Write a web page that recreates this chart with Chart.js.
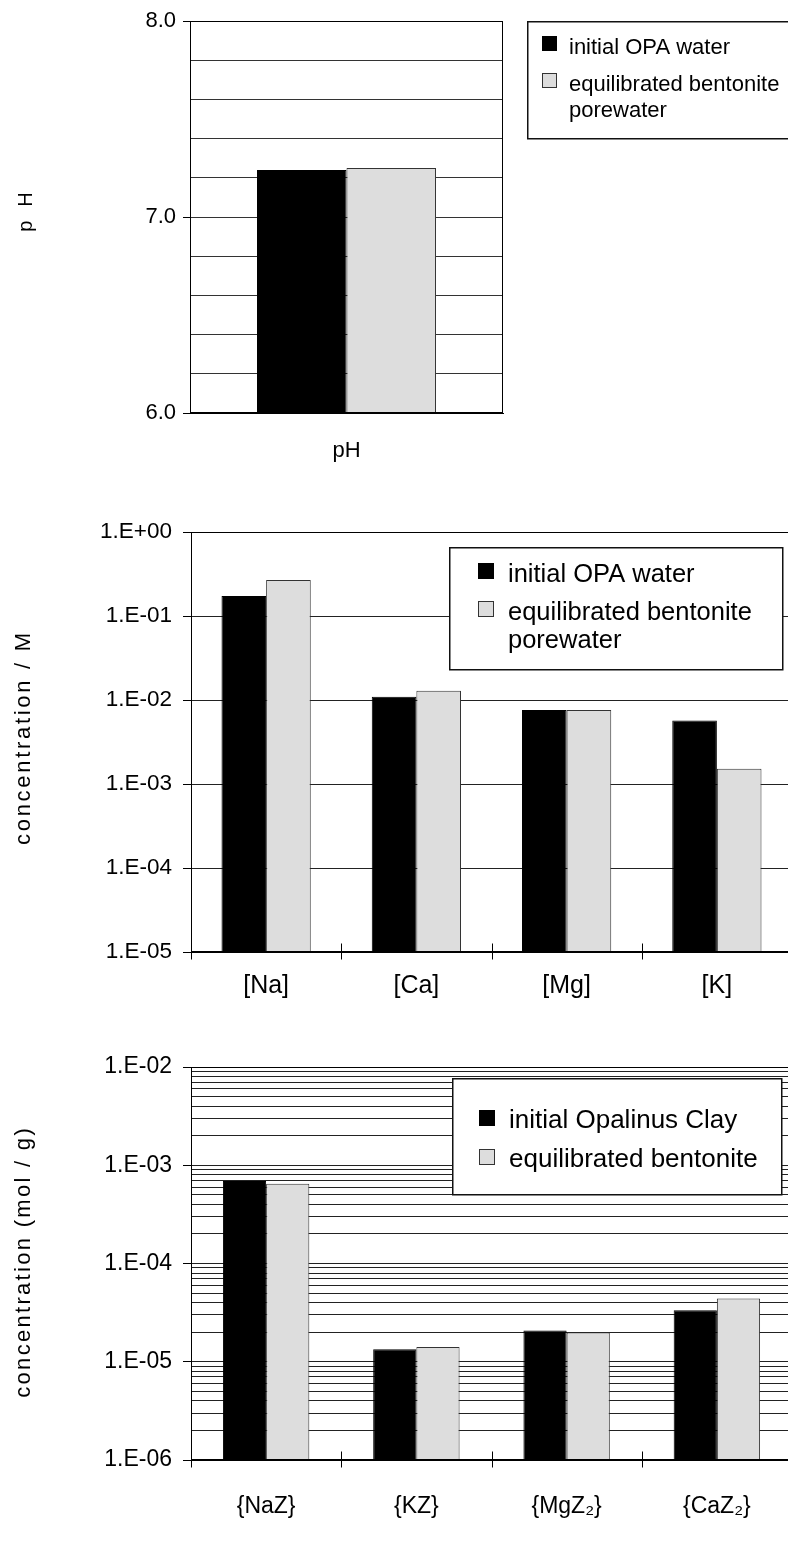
<!DOCTYPE html>
<html>
<head>
<meta charset="utf-8">
<title>pH, porewater and exchanger concentrations</title>
<script src="https://cdn.jsdelivr.net/npm/chart.js@4/dist/chart.umd.min.js"></script>
<style>
  html, body { margin: 0; padding: 0; background: #fff; width: 788px; height: 1542px; overflow: hidden; }
  .panel { position: absolute; left: 0; }
  canvas { display: block; }
</style>
</head>
<body>
<div class="panel" style="top:0px"><canvas id="phChart" width="788" height="480"></canvas></div>
<div class="panel" style="top:480px"><canvas id="waterChart" width="800" height="540"></canvas></div>
<div class="panel" style="top:1020px"><canvas id="exchChart" width="800" height="522"></canvas></div>

<script>
// ---- pH panel ----
const phCategories = ['pH'];
const phInitialOPA = [7.24];
const phBentonite = [7.25];
const phTickValues = [6, 7, 8];
const phTickLabels = ['6.0', '7.0', '8.0'];

// ---- dissolved cations (mol/L) ----
const waterCategories = ['[Na]', '[Ca]', '[Mg]', '[K]'];
const waterInitialOPA = [0.173, 0.0109, 0.0076, 0.0057];
const waterBentonite = [0.268, 0.0129, 0.0076, 0.00152];
const waterTickValues = [1e-5, 1e-4, 1e-3, 1e-2, 1e-1, 1];
const waterTickLabels = ['1.E-05', '1.E-04', '1.E-03', '1.E-02', '1.E-01', '1.E+00'];

// ---- exchanger occupancy (mol/g) ----
const exchCategories = ['{NaZ}', '{KZ}', '{MgZ\u2082}', '{CaZ\u2082}'];
const exchInitialClay = [6.9e-4, 1.34e-5, 2.08e-5, 3.35e-5];
const exchBentonite = [6.5e-4, 1.41e-5, 1.99e-5, 4.41e-5];
const exchTickValues = [1e-6, 1e-5, 1e-4, 1e-3, 1e-2];
const exchTickLabels = ['1.E-06', '1.E-05', '1.E-04', '1.E-03', '1.E-02'];

const waterSeriesNames = ['initial OPA water', 'equilibrated bentonite porewater'];
const exchSeriesNames = ['initial Opalinus Clay', 'equilibrated bentonite'];

const FONT = '"Liberation Sans", Arial, Helvetica, sans-serif';
Chart.defaults.font.family = FONT;
Chart.defaults.color = '#000';
Chart.defaults.animation = false;

const BLACK = '#000000';
const GREY = '#dddddd';
const GREY_EDGE = '#333333';

function labelFor(values, labels, v) {
  const i = values.findIndex(t => Math.abs(t - v) <= Math.abs(t) * 1e-6);
  return i >= 0 ? labels[i] : '';
}
function isMajor(values, v) {
  return values.some(t => Math.abs(t - v) <= Math.abs(t) * 1e-6);
}

// full set of 1..9 x 10^n grid values between two decades
function logGrid(minExp, maxExp) {
  const out = [];
  for (let e = minExp; e < maxExp; e++) {
    for (let m = 1; m <= 9; m++) out.push(m * Math.pow(10, e));
  }
  out.push(Math.pow(10, maxExp));
  return out;
}

function wrapLines(ctx, text, maxW) {
  const words = text.split(' ');
  const lines = [];
  let cur = '';
  words.forEach(w => {
    const t = cur ? cur + ' ' + w : w;
    if (cur && ctx.measureText(t).width > maxW) { lines.push(cur); cur = w; }
    else cur = t;
  });
  if (cur) lines.push(cur);
  return lines;
}

// plot frame plus category boundary ticks crossing the x axis
const framePlugin = {
  id: 'frame',
  afterDatasetsDraw(chart, args, o) {
    const a = chart.chartArea;
    const ctx = chart.ctx;
    ctx.save();
    ctx.strokeStyle = '#000';
    ctx.lineWidth = 1;
    const l = Math.round(a.left) + 0.5, r = Math.round(a.right) - 0.5;
    const t = Math.round(a.top) + 0.5, b = Math.round(a.bottom) - 0.5;
    ctx.strokeRect(l, t, r - l, b - t);
    if (o && o.crossTicks) {
      const n = chart.data.labels.length;
      const step = (a.right - a.left) / n;
      ctx.beginPath();
      for (let i = 0; i <= n; i++) {
        const x = Math.round(a.left + i * step) + 0.5;
        ctx.moveTo(x, b - o.crossTicks);
        ctx.lineTo(x, b + o.crossTicks);
      }
      ctx.stroke();
    }
    ctx.restore();
  }
};

// boxed legend with wrapped entries
const boxLegendPlugin = {
  id: 'boxLegend',
  afterDatasetsDraw(chart, args, o) {
    if (!o || !o.w) return;
    const ctx = chart.ctx;
    ctx.save();
    ctx.fillStyle = '#fff';
    ctx.fillRect(o.x, o.y, o.w, o.h);
    ctx.strokeStyle = '#111';
    ctx.lineWidth = 1.5;
    ctx.strokeRect(o.x + 0.75, o.y + 0.75, o.w, o.h);
    ctx.font = o.size + 'px ' + FONT;
    ctx.textBaseline = 'alphabetic';
    ctx.textAlign = 'left';
    let base = o.y + o.first;
    chart.data.datasets.forEach(ds => {
      const lines = wrapLines(ctx, ds.label, o.maxText);
      const sy = Math.round(base - o.swatchGap - o.swatch);
      ctx.fillStyle = ds.backgroundColor;
      ctx.fillRect(o.swatchX, sy, o.swatch, o.swatch);
      ctx.strokeStyle = ds.borderColor;
      ctx.lineWidth = 1;
      ctx.strokeRect(o.swatchX + 0.5, sy + 0.5, o.swatch - 1, o.swatch - 1);
      ctx.fillStyle = '#000';
      lines.forEach((ln, i) => ctx.fillText(ln, o.textX, base + i * o.lineGap));
      base += (lines.length - 1) * o.lineGap + o.itemGap;
    });
    ctx.restore();
  }
};

// rotated, letter-spaced value-axis title
const yTitlePlugin = {
  id: 'yTitle',
  afterDraw(chart, args, o) {
    if (!o || !o.text) return;
    const ctx = chart.ctx;
    ctx.save();
    ctx.font = o.size + 'px ' + FONT;
    if ('letterSpacing' in ctx) ctx.letterSpacing = o.spacing + 'px';
    const w = ctx.measureText(o.text).width - o.spacing;
    ctx.translate(o.cx, o.cy);
    ctx.rotate(-Math.PI / 2);
    ctx.fillStyle = '#000';
    ctx.textAlign = 'left';
    ctx.textBaseline = 'middle';
    ctx.fillText(o.text, -w / 2, 0);
    ctx.restore();
  }
};

function barSet(label, data, fill, edge) {
  return { label, data, backgroundColor: fill, borderColor: edge, borderWidth: 1, borderSkipped: 'start' };
}

const common = {
  responsive: false,
  animation: false,
  devicePixelRatio: 1,
  events: []
};

// ---------- pH ----------
new Chart(document.getElementById('phChart'), {
  type: 'bar',
  data: {
    labels: phCategories,
    datasets: [
      barSet(waterSeriesNames[0], phInitialOPA, BLACK, BLACK),
      barSet(waterSeriesNames[1], phBentonite, GREY, GREY_EDGE)
    ]
  },
  options: Object.assign({}, common, {
    layout: { padding: { left: 0, right: 285, top: 21, bottom: 0 } },
    datasets: { bar: { categoryPercentage: 0.572, barPercentage: 1 } },
    plugins: {
      legend: { display: false },
      tooltip: { enabled: false },
      frame: {},
      boxLegend: { x: 527, y: 21, w: 300, h: 117, size: 22, first: 32.5, itemGap: 37.5, lineGap: 26,
                   swatchX: 542, swatch: 15, swatchGap: 3, textX: 569, maxText: 235 },
      yTitle: { text: 'pH', cx: 26.5, cy: 212, size: 20, spacing: 14 }
    },
    scales: {
      x: {
        grid: { display: false, drawTicks: false },
        border: { display: true, color: '#000' },
        ticks: { padding: 25, font: { size: 22 } },
        afterFit: s => { s.height = 67; }
      },
      y: {
        min: 6, max: 8,
        ticks: {
          stepSize: 0.2, autoSkip: false, padding: 7, font: { size: 22 },
          callback: v => labelFor(phTickValues, phTickLabels, v)
        },
        grid: {
          color: '#333', lineWidth: 1, tickLength: 7,
          tickColor: c => isMajor(phTickValues, c.tick.value) ? '#000' : 'rgba(0,0,0,0)'
        },
        border: { color: '#000' },
        afterFit: s => { s.width = 190; }
      }
    }
  }),
  plugins: [framePlugin, boxLegendPlugin, yTitlePlugin]
});

// ---------- dissolved concentrations ----------
new Chart(document.getElementById('waterChart'), {
  type: 'bar',
  data: {
    labels: waterCategories,
    datasets: [
      barSet(waterSeriesNames[0], waterInitialOPA, BLACK, BLACK),
      barSet(waterSeriesNames[1], waterBentonite, GREY, GREY_EDGE)
    ]
  },
  options: Object.assign({}, common, {
    layout: { padding: { left: 0, right: 8, top: 52, bottom: 0 } },
    datasets: { bar: { categoryPercentage: 0.594, barPercentage: 1 } },
    plugins: {
      legend: { display: false },
      tooltip: { enabled: false },
      frame: { crossTicks: 8 },
      boxLegend: { x: 449, y: 67, w: 333, h: 122, size: 25.5, first: 34.5, itemGap: 38.3, lineGap: 28,
                   swatchX: 478, swatch: 16, swatchGap: 3, textX: 508, maxText: 270 },
      yTitle: { text: 'concentration / M', cx: 23.5, cy: 259, size: 22, spacing: 2.7 }
    },
    scales: {
      x: {
        grid: { display: false, drawTicks: false },
        border: { display: true, color: '#000' },
        ticks: { padding: 19, font: { size: 25 } },
        afterFit: s => { s.height = 68; }
      },
      y: {
        type: 'logarithmic',
        min: waterTickValues[0], max: waterTickValues[waterTickValues.length - 1],
        afterBuildTicks: s => { s.ticks = waterTickValues.map(v => ({ value: v, major: true })); },
        ticks: {
          autoSkip: false, padding: 11, font: { size: 22.5 },
          callback: v => labelFor(waterTickValues, waterTickLabels, v)
        },
        grid: { color: '#222', lineWidth: 1, tickLength: 8, tickColor: '#000' },
        border: { color: '#000' },
        afterFit: s => { s.width = 191; }
      }
    }
  }),
  plugins: [framePlugin, boxLegendPlugin, yTitlePlugin]
});

// ---------- exchanger concentrations ----------
new Chart(document.getElementById('exchChart'), {
  type: 'bar',
  data: {
    labels: exchCategories,
    datasets: [
      barSet(exchSeriesNames[0], exchInitialClay, BLACK, BLACK),
      barSet(exchSeriesNames[1], exchBentonite, GREY, GREY_EDGE)
    ]
  },
  options: Object.assign({}, common, {
    layout: { padding: { left: 0, right: 8, top: 47, bottom: 0 } },
    datasets: { bar: { categoryPercentage: 0.575, barPercentage: 1 } },
    plugins: {
      legend: { display: false },
      tooltip: { enabled: false },
      frame: { crossTicks: 8 },
      boxLegend: { x: 452, y: 58, w: 329, h: 116, size: 26, first: 50.3, itemGap: 38.7, lineGap: 28,
                   swatchX: 479, swatch: 16, swatchGap: 2, textX: 509, maxText: 300 },
      yTitle: { text: 'concentration (mol / g)', cx: 24, cy: 243, size: 22, spacing: 2.3 }
    },
    scales: {
      x: {
        grid: { display: false, drawTicks: false },
        border: { display: true, color: '#000' },
        ticks: { padding: 33, font: { size: 23 } },
        afterFit: s => { s.height = 82; }
      },
      y: {
        type: 'logarithmic',
        min: exchTickValues[0], max: exchTickValues[exchTickValues.length - 1],
        afterBuildTicks: s => { s.ticks = logGrid(-6, -2).map(v => ({ value: v })); },
        ticks: {
          autoSkip: false, padding: 11, font: { size: 23 },
          callback: v => labelFor(exchTickValues, exchTickLabels, v)
        },
        grid: {
          color: '#222', lineWidth: 1, tickLength: 8,
          tickColor: c => isMajor(exchTickValues, c.tick.value) ? '#000' : 'rgba(0,0,0,0)'
        },
        border: { color: '#000' },
        afterFit: s => { s.width = 191; }
      }
    }
  }),
  plugins: [framePlugin, boxLegendPlugin, yTitlePlugin]
});
</script>
</body>
</html>
